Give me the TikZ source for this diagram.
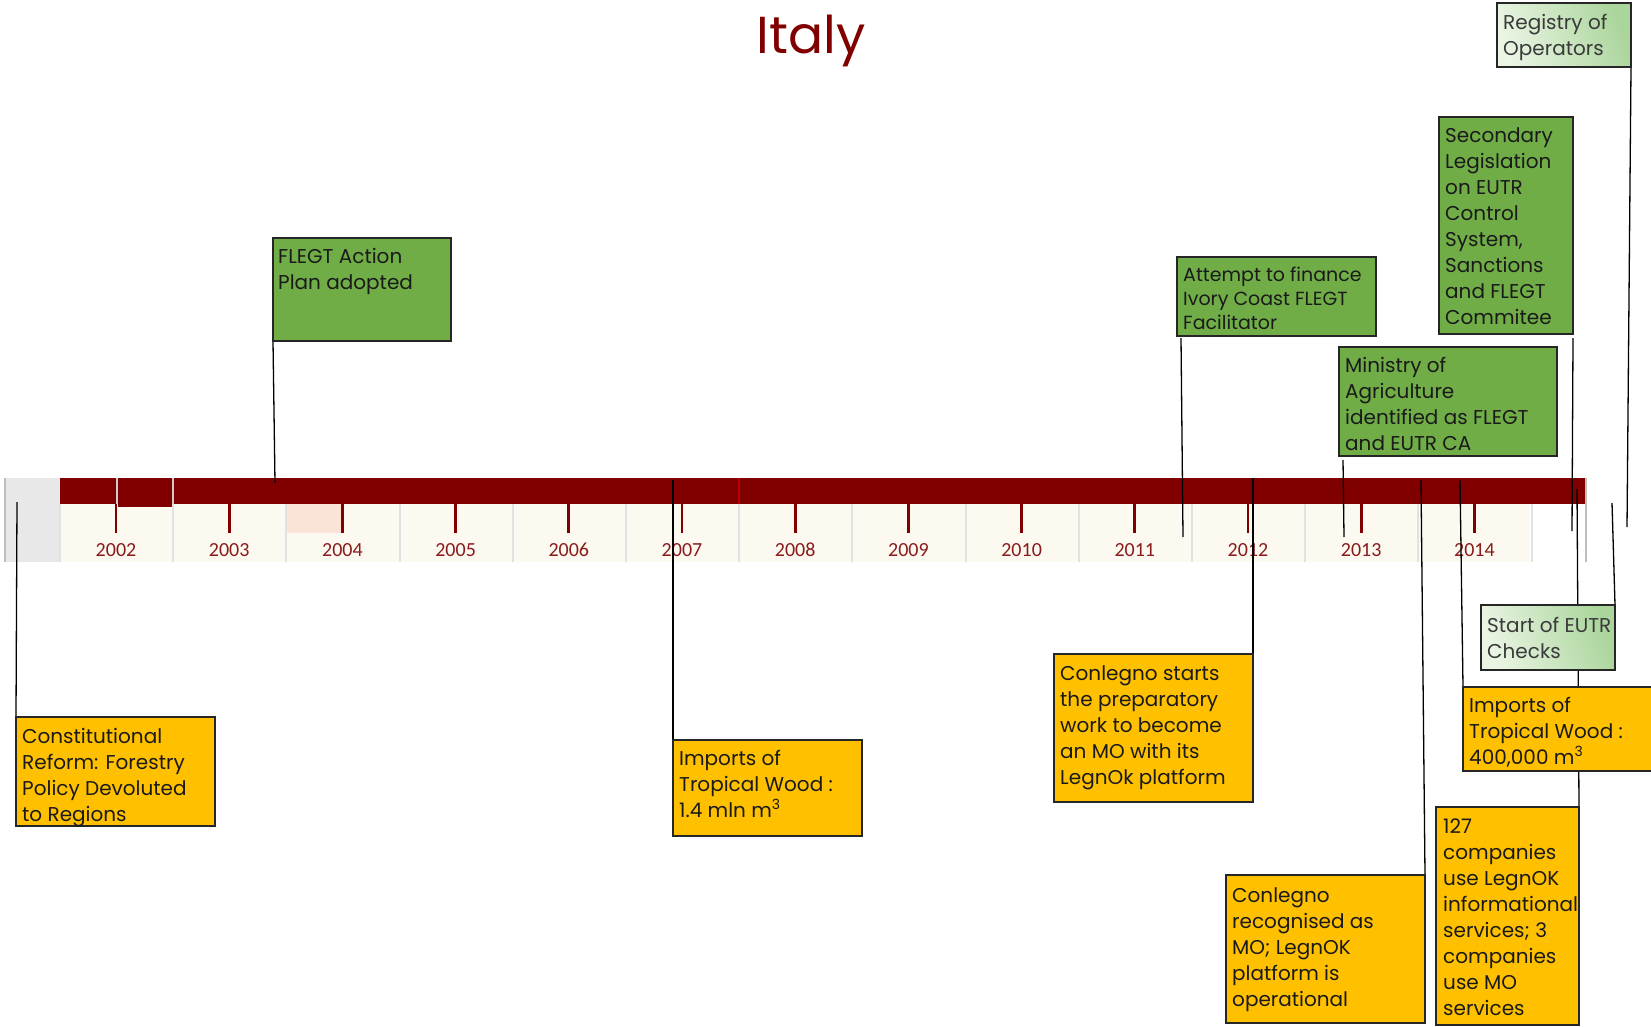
\documentclass[tikz,border=0pt]{standalone}
\usepackage{fontspec}
\setmainfont{Poppins}
\newfontfamily\yearfont{Carlito}
\usetikzlibrary{calc}
\pgfdeclarelayer{bg}
\pgfdeclarelayer{mid}
\pgfsetlayers{bg,mid,main}
\definecolor{barred}{HTML}{800000}
\definecolor{yeartxt}{HTML}{8A1B1B}
\definecolor{creamc}{HTML}{FCF9F1}
\definecolor{sepc}{HTML}{E2E2E2}
\definecolor{lgrayc}{HTML}{E8E8E8}
\definecolor{pinkc}{HTML}{FBE3D7}
\definecolor{yelc}{HTML}{FFC000}
\definecolor{grnc}{HTML}{70AD47}
\definecolor{lgrnA}{HTML}{EAF5E4}
\definecolor{lgrnB}{HTML}{AAD59B}
\definecolor{boxline}{HTML}{262626}
\definecolor{txtc}{HTML}{1A1A1A}
\definecolor{graytxt}{HTML}{3A3A3A}
\newcommand\evbox[6]{\node[#1, minimum width={#4-#2}, minimum height={#5-#3}] (#6) at (#2,#3) {};}
\begin{document}
\begin{tikzpicture}[x=1pt,y=-1pt,
  ev/.style={draw=boxline, line width=1.4pt, inner sep=0pt, outer sep=0pt, anchor=north west},
  ybox/.style={ev, fill=yelc},
  gbox/.style={ev, fill=grnc},
  lbox/.style={ev, left color=lgrnA, right color=lgrnB, shading angle=110},
  txt/.style={anchor=north west, align=left, inner sep=0pt, text=txtc,
     font=\fontsize{20}{26}\selectfont},
  conn/.style={draw=black, line width=1.3pt},
  yearlbl/.style={anchor=base, text=yeartxt, font=\yearfont\fontsize{20}{24}\selectfont}]
\useasboundingbox (0,0) rectangle (1651,1027);
\begin{pgfonlayer}{bg}
\fill[white] (0,0) rectangle (1651,1027);
% left gray block
\fill[lgrayc] (5,478) rectangle (60,562);
\draw[draw=black!25, line width=1.5pt] (5,478) -- (5,562);
% cream band
\fill[creamc] (60,504) rectangle (1530,562);
\foreach \k in {0,...,13}{
  \draw[sepc, line width=2pt] ({60+113.2*\k},504) -- ({60+113.2*\k},562);
}
\fill[pinkc] (287,504) rectangle (343,533);
% bar
\fill[barred] (60,478) rectangle (1585,504);
\fill[barred] (118,504) rectangle (172,507);
\draw[black!20, line width=1.2pt] (117,478) -- (117,504);
\draw[black!20, line width=1.2pt] (173,478) -- (173,504);
\draw[red!75!black, line width=1.3pt] (739,478) -- (739,504);
\draw[black!25, line width=1.5pt] (1586,478) -- (1586,562);
% ticks and years
\foreach \i in {0,...,12}{
  \pgfmathsetmacro\xx{116+113.2*\i}
  \pgfmathtruncatemacro\yr{2002+\i}
  \draw[barred, line width=2.8pt] (\xx,504) -- (\xx,533);
  \node[yearlbl] (y\yr) at (\xx,556) {\yr};
}
\end{pgfonlayer}
% title
\node[anchor=base, text=barred, font=\fontsize{52}{60}\selectfont] (title) at (811,54) {Italy};
% boxes
\evbox{gbox}{273}{238}{451}{341}{flegt}
\evbox{gbox}{1177}{257}{1376}{336}{attempt}
\evbox{gbox}{1439}{117}{1573}{334}{second}
\evbox{gbox}{1339}{347}{1557}{456}{ministry}
\evbox{lbox}{1497}{3}{1631}{67}{registry}
\evbox{lbox}{1481}{605}{1615}{670}{startc}
\evbox{ybox}{16}{717}{215}{826}{constit}
\evbox{ybox}{673}{740}{862}{836}{impA}
\evbox{ybox}{1054}{654}{1253}{802}{cstarts}
\evbox{ybox}{1226}{875}{1425}{1023}{crecog}
\evbox{ybox}{1463}{687}{1658}{771}{impB}
\evbox{ybox}{1436}{807}{1579}{1025}{comp}
% texts
\node[txt] (flegt-t) at ($(flegt.north west)+(5,7)$) {\strut FLEGT Action\\Plan adopted};
\node[txt, font=\fontsize{19}{24}\selectfont] (attempt-t) at ($(attempt.north west)+(6,7)$) {\strut Attempt to finance\\Ivory Coast FLEGT\\Facilitator};
\node[txt] (second-t) at ($(second.north west)+(6,7)$) {\strut Secondary\\Legislation\\on EUTR\\Control\\System,\\Sanctions\\and FLEGT\\Commitee};
\node[txt] (ministry-t) at ($(ministry.north west)+(6,7)$) {\strut Ministry of\\Agriculture\\identified as FLEGT\\and EUTR CA};
\node[txt, text=graytxt] (registry-t) at ($(registry.north west)+(6,8)$) {\strut Registry of\\Operators};
\node[txt, text=graytxt] (startc-t) at ($(startc.north west)+(6,9)$) {\strut Start of EUTR\\Checks};
\node[txt] (constit-t) at ($(constit.north west)+(6,8)$) {\strut Constitutional\\Reform: Forestry\\Policy Devoluted\\to Regions};
\node[txt] (impA-t) at ($(impA.north west)+(6,7)$) {\strut Imports of\\Tropical Wood :\\1.4 mln m\textsuperscript{3}};
\node[txt] (cstarts-t) at ($(cstarts.north west)+(6,8)$) {\strut Conlegno starts\\the preparatory\\work to become\\an MO with its\\LegnOk platform};
\node[txt] (crecog-t) at ($(crecog.north west)+(6,9)$) {\strut Conlegno\\recognised as\\MO; LegnOK\\platform is\\operational};
\node[txt] (impB-t) at ($(impB.north west)+(6,7)$) {\strut Imports of\\Tropical Wood :\\400,000 m\textsuperscript{3}};
\node[txt] (comp-t) at ($(comp.north west)+(7,8)$) {\strut 127\\companies\\use LegnOK\\informational\\services; 3\\companies\\use MO\\services};
% connector end points on the timeline
\coordinate (e-constit) at (17,502);
\coordinate (e-flegt) at (275,483);
\coordinate (e-impA) at (673,480);
\coordinate (e-attempt) at (1183,537);
\coordinate (e-cstarts) at (1253,478);
\coordinate (e-ministry) at (1344,537);
\coordinate (e-crecog) at (1421,480);
\coordinate (e-impB) at (1460,480);
\coordinate (e-second) at (1572,531);
\coordinate (e-comp) at (1577,489);
\coordinate (e-startc) at (1612,503);
\coordinate (e-registry) at (1627,527);
\begin{pgfonlayer}{mid}
\draw[conn] (constit.north west) -- (e-constit);
\draw[conn] (flegt.south west) -- (e-flegt);
\draw[conn] (impA.north west) -- (e-impA);
\draw[conn] ([xshift=4pt,yshift=-2pt]attempt.south west) -- (e-attempt);
\draw[conn] (cstarts.north east) -- (e-cstarts);
\draw[conn] ([xshift=4pt,yshift=-4pt]ministry.south west) -- (e-ministry);
\draw[conn] (crecog.north east) -- (e-crecog);
\draw[conn] (impB.north west) -- (e-impB);
\draw[conn] ([yshift=-4pt]second.south east) -- (e-second);
\draw[conn] (comp.north east) -- (e-comp);
\draw[conn] (startc.north east) -- (e-startc);
\draw[conn] (registry.south east) -- (e-registry);
\end{pgfonlayer}
\end{tikzpicture}
\end{document}
